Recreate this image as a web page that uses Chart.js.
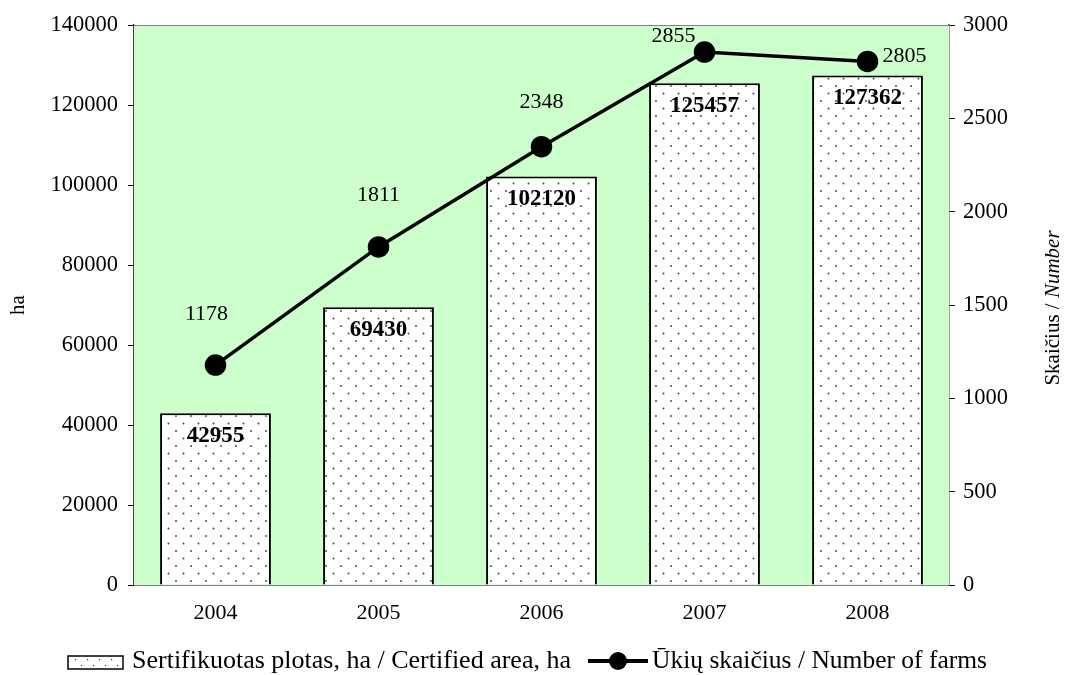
<!DOCTYPE html>
<html><head><meta charset="utf-8">
<script src="https://cdn.jsdelivr.net/npm/chart.js@4.4.0/dist/chart.umd.min.js"></script>
<style>html,body{margin:0;padding:0;background:#fff}#wrap{width:1068px;height:675px}</style>
</head><body><div id="wrap"><canvas id="c"></canvas></div>
<script>
const years = ['2004','2005','2006','2007','2008'];
const areaHa = [42955, 69430, 102120, 125457, 127362];
const farms = [1178, 1811, 2348, 2855, 2805];
const areaLabel = 'Sertifikuotas plotas, ha / Certified area, ha';
const farmsLabel = 'Ūkių skaičius / Number of farms';
const leftTicksMax = 140000, leftStep = 20000;
const rightTicksMax = 3000, rightStep = 500;

const FONT = "'Liberation Serif', 'Times New Roman', serif";

function makePattern() {
  const p = document.createElement('canvas');
  p.width = 15; p.height = 15;
  const g = p.getContext('2d');
  g.fillStyle = '#fff'; g.fillRect(0,0,15,15);
  g.fillStyle = '#444';
  g.beginPath(); g.arc(3.5,3.5,0.95,0,Math.PI*2); g.fill();
  g.beginPath(); g.arc(11,11,0.95,0,Math.PI*2); g.fill();
  return document.createElement('canvas').getContext('2d').createPattern(p,'repeat');
}
const pattern = makePattern();

const bgPlugin = {
  id: 'bg',
  beforeDatasetsDraw(chart) {
    const {ctx, chartArea: a} = chart;
    ctx.save();
    ctx.fillStyle = '#CCFFCC';
    ctx.fillRect(a.left, a.top, a.right - a.left, a.bottom - a.top);
    ctx.strokeStyle = '#808080'; ctx.lineWidth = 1;
    ctx.beginPath(); ctx.moveTo(a.left, a.top + 0.5); ctx.lineTo(a.right, a.top + 0.5); ctx.stroke();
    ctx.restore();
  }
};

const labelPlugin = {
  id: 'vals',
  afterDatasetsDraw(chart) {
    const ctx = chart.ctx;
    ctx.save();
    ctx.textAlign = 'center'; ctx.textBaseline = 'middle';
    const barMeta = chart.getDatasetMeta(0);
    ctx.font = "bold 23px " + FONT; ctx.fillStyle = '#000';
    barMeta.data.forEach((el, i) => {
      ctx.fillText(String(areaHa[i]), el.x, el.y + 23);
    });
    const lineMeta = chart.getDatasetMeta(1);
    ctx.font = "22px " + FONT;
    const offs = chart.options.plugins.vals.lineOffsets;
    lineMeta.data.forEach((el, i) => {
      const o = offs[i];
      ctx.fillText(String(farms[i]), el.x + o[0], el.y + o[1]);
    });
    // axis titles
    ctx.font = "21px " + FONT;
    ctx.save();
    ctx.translate(18, 305); ctx.rotate(-Math.PI/2);
    ctx.fillText('ha', 0, 0);
    ctx.restore();
    ctx.save();
    ctx.translate(1053, 308); ctx.rotate(-Math.PI/2);
    const t1 = 'Skaičius / ';
    ctx.font = "21px " + FONT;
    const w1 = ctx.measureText(t1).width;
    ctx.font = "italic 21px " + FONT;
    const w2 = ctx.measureText('Number').width;
    ctx.textAlign = 'left';
    ctx.font = "21px " + FONT;
    ctx.fillText(t1, -(w1 + w2)/2, 0);
    ctx.font = "italic 21px " + FONT;
    ctx.fillText('Number', -(w1 + w2)/2 + w1, 0);
    ctx.restore();

    // legend
    const ly = 661;
    ctx.textAlign = 'left';
    ctx.fillStyle = '#fff';
    ctx.fillRect(68, 656, 55, 13);
    ctx.fillStyle = '#444';
    for (let x = 75; x < 122; x += 12) { ctx.fillRect(x, 659, 1.2, 1.2); ctx.fillRect(x + 6, 665, 1.2, 1.2); }
    ctx.strokeStyle = '#000'; ctx.lineWidth = 1.5;
    ctx.strokeRect(68, 656, 55, 13);
    ctx.fillStyle = '#000';
    ctx.font = "26px " + FONT;
    ctx.fillText(areaLabel, 132, ly, 445);
    ctx.strokeStyle = '#000'; ctx.lineWidth = 4;
    ctx.beginPath(); ctx.moveTo(588, ly); ctx.lineTo(648, ly); ctx.stroke();
    ctx.beginPath(); ctx.arc(618, ly, 9, 0, Math.PI * 2); ctx.fill();
    ctx.fillText(farmsLabel, 652, ly, 335);
    ctx.restore();
  }
};

new Chart(document.getElementById('c'), {
  data: {
    labels: years,
    datasets: [
      {
        type: 'bar', label: areaLabel, data: areaHa, yAxisID: 'y',
        backgroundColor: pattern, borderColor: '#000', borderWidth: 2,
        categoryPercentage: 0.68, barPercentage: 1, order: 2
      },
      {
        type: 'line', label: farmsLabel, data: farms, yAxisID: 'y1',
        borderColor: '#000', borderWidth: 3.5, backgroundColor: '#000',
        pointRadius: 9, pointHoverRadius: 9, pointBackgroundColor: '#000',
        tension: 0, order: 1
      }
    ]
  },
  options: {
    responsive: true, maintainAspectRatio: false, animation: false,
    layout: { padding: { top: 25, left: 0, right: 0, bottom: 30 } },
    scales: {
      x: {
        grid: { display: false, drawTicks: false },
        border: { color: '#808080', width: 1 },
        ticks: { font: { family: FONT, size: 22 }, color: '#000', padding: 15 },
        afterFit(s) { s.height = 60; }
      },
      y: {
        position: 'left', min: 0, max: leftTicksMax,
        ticks: { stepSize: leftStep, font: { family: FONT, size: 22.5 }, color: '#000', padding: 10,
                 callback: v => String(v) },
        grid: { display: true, drawOnChartArea: false, tickLength: 6, color: '#000' },
        border: { color: '#404040', width: 1.5 },
        afterFit(s) { s.width = 134; }
      },
      y1: {
        position: 'right', min: 0, max: rightTicksMax,
        ticks: { stepSize: rightStep, font: { family: FONT, size: 22.5 }, color: '#000', padding: 8,
                 callback: v => String(v) },
        grid: { display: true, drawOnChartArea: false, tickLength: 6, color: '#000' },
        border: { color: '#404040', width: 1.5 },
        afterFit(s) { s.width = 119; }
      }
    },
    plugins: {
      vals: { lineOffsets: [[-9,-51],[0,-52],[0,-44],[-31,-16],[37,-5]] },
      tooltip: { enabled: false },
      legend: { display: false }
    }
  },
  plugins: [bgPlugin, labelPlugin]
});
</script>
</body></html>
